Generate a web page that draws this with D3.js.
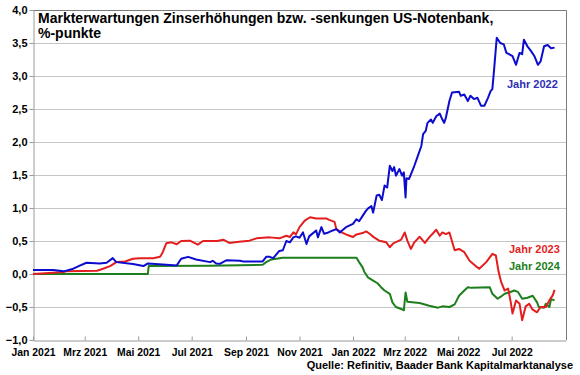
<!DOCTYPE html>
<html>
<head>
<meta charset="utf-8">
<script src="https://cdn.jsdelivr.net/npm/d3@7"></script>
<style>
  body { margin: 0; background: #fff; }
  svg { display: block; font-family: "Liberation Sans", Arial, sans-serif; }
  .grid line { stroke: #c6c6c6; }
  .axis text { font-size: 11px; font-weight: bold; fill: #000; }
  .axis.x text { font-size: 10.4px; }
</style>
</head>
<body>
<svg id="chart" width="580" height="375"></svg>
<script>
const monthNames = ["Jan", "Feb", "Mrz", "Apr", "Mai", "Jun", "Jul", "Aug", "Sep", "Okt", "Nov", "Dez"];
const yTicks = [-1, -0.5, 0, 0.5, 1, 1.5, 2, 2.5, 3, 3.5, 4];

const titleLines = ["Markterwartungen Zinserhöhungen bzw. -senkungen US-Notenbank,", "%-punkte"];
const source = "Quelle: Refinitiv, Baader Bank Kapitalmarktanalyse";

// Jahr 2022 (blau)
const jahr2022 = [
  ["2021-01-01", 0.06], ["2021-01-24", 0.06], ["2021-02-05", 0.04], ["2021-02-16", 0.08],
  ["2021-02-24", 0.13], ["2021-03-03", 0.17], ["2021-03-18", 0.16], ["2021-03-26", 0.17],
  ["2021-04-02", 0.24], ["2021-04-06", 0.18], ["2021-04-25", 0.15], ["2021-05-07", 0.12],
  ["2021-05-12", 0.16], ["2021-06-02", 0.14], ["2021-06-14", 0.13], ["2021-06-19", 0.23],
  ["2021-06-27", 0.26], ["2021-07-06", 0.22], ["2021-07-22", 0.18], ["2021-07-25", 0.20],
  ["2021-07-29", 0.16], ["2021-08-02", 0.155], ["2021-08-10", 0.21], ["2021-08-25", 0.20],
  ["2021-08-29", 0.19], ["2021-09-20", 0.19], ["2021-09-24", 0.26], ["2021-09-28", 0.26],
  ["2021-10-02", 0.24], ["2021-10-09", 0.35], ["2021-10-13", 0.36], ["2021-10-17", 0.50],
  ["2021-10-21", 0.48], ["2021-10-25", 0.555], ["2021-10-28", 0.57], ["2021-11-01", 0.55],
  ["2021-11-05", 0.63], ["2021-11-09", 0.455], ["2021-11-12", 0.57], ["2021-11-20", 0.66],
  ["2021-11-22", 0.555], ["2021-11-26", 0.71], ["2021-11-29", 0.61], ["2021-12-04", 0.63],
  ["2021-12-09", 0.66], ["2021-12-13", 0.68], ["2021-12-17", 0.63], ["2021-12-24", 0.71],
  ["2022-01-01", 0.76], ["2022-01-05", 0.83], ["2022-01-08", 0.80], ["2022-01-12", 0.88],
  ["2022-01-16", 0.96], ["2022-01-18", 0.99], ["2022-01-22", 1.03], ["2022-01-24", 0.93],
  ["2022-01-28", 1.19], ["2022-01-31", 1.20], ["2022-02-03", 1.12], ["2022-02-06", 1.34],
  ["2022-02-09", 1.31], ["2022-02-12", 1.64], ["2022-02-15", 1.56], ["2022-02-17", 1.62],
  ["2022-02-19", 1.49], ["2022-02-23", 1.59], ["2022-02-26", 1.49], ["2022-02-28", 1.54],
  ["2022-03-02", 1.16], ["2022-03-03", 1.45], ["2022-03-06", 1.44], ["2022-03-12", 1.64],
  ["2022-03-16", 1.79], ["2022-03-20", 1.94], ["2022-03-22", 2.12], ["2022-03-25", 2.17],
  ["2022-03-27", 2.29], ["2022-03-31", 2.34], ["2022-04-02", 2.29], ["2022-04-06", 2.39],
  ["2022-04-10", 2.43], ["2022-04-13", 2.34], ["2022-04-15", 2.29], ["2022-04-17", 2.37],
  ["2022-04-21", 2.62], ["2022-04-24", 2.75], ["2022-05-02", 2.76], ["2022-05-04", 2.70],
  ["2022-05-08", 2.72], ["2022-05-12", 2.62], ["2022-05-15", 2.70], ["2022-05-19", 2.65],
  ["2022-05-23", 2.67], ["2022-05-27", 2.55], ["2022-05-31", 2.55], ["2022-06-04", 2.67],
  ["2022-06-07", 2.77], ["2022-06-09", 2.80], ["2022-06-11", 3.10], ["2022-06-14", 3.58],
  ["2022-06-18", 3.50], ["2022-06-22", 3.48], ["2022-06-25", 3.35], ["2022-06-28", 3.33],
  ["2022-07-02", 3.30], ["2022-07-06", 3.17], ["2022-07-10", 3.35], ["2022-07-13", 3.33],
  ["2022-07-15", 3.55], ["2022-07-19", 3.45], ["2022-07-23", 3.38], ["2022-07-27", 3.30],
  ["2022-07-31", 3.17], ["2022-08-03", 3.22], ["2022-08-07", 3.45], ["2022-08-11", 3.47],
  ["2022-08-15", 3.42], ["2022-08-19", 3.43]
];

// Jahr 2023 (rot)
const jahr2023 = [
  ["2021-01-01", 0.0], ["2021-01-15", 0.01], ["2021-02-05", 0.03], ["2021-02-08", 0.04],
  ["2021-03-15", 0.05], ["2021-03-22", 0.08], ["2021-03-30", 0.12], ["2021-04-06", 0.18],
  ["2021-04-16", 0.19], ["2021-04-25", 0.23], ["2021-05-03", 0.24], ["2021-05-18", 0.24],
  ["2021-05-26", 0.26], ["2021-05-29", 0.33], ["2021-06-02", 0.465], ["2021-06-08", 0.48],
  ["2021-06-14", 0.45], ["2021-06-19", 0.50], ["2021-06-29", 0.505], ["2021-07-08", 0.445],
  ["2021-07-14", 0.50], ["2021-07-30", 0.50], ["2021-08-06", 0.52], ["2021-08-13", 0.47],
  ["2021-08-24", 0.49], ["2021-09-05", 0.505], ["2021-09-13", 0.54], ["2021-09-28", 0.555],
  ["2021-10-09", 0.54], ["2021-10-17", 0.58], ["2021-10-21", 0.56], ["2021-10-25", 0.63],
  ["2021-10-28", 0.60], ["2021-11-01", 0.71], ["2021-11-07", 0.81], ["2021-11-13", 0.86],
  ["2021-11-20", 0.84], ["2021-12-02", 0.84], ["2021-12-05", 0.82], ["2021-12-11", 0.79],
  ["2021-12-13", 0.68], ["2021-12-19", 0.63], ["2021-12-24", 0.60], ["2021-12-28", 0.58],
  ["2022-01-01", 0.56], ["2022-01-05", 0.60], ["2022-01-12", 0.62], ["2022-01-16", 0.645],
  ["2022-01-20", 0.61], ["2022-01-25", 0.555], ["2022-01-31", 0.505], ["2022-02-08", 0.48],
  ["2022-02-12", 0.405], ["2022-02-16", 0.465], ["2022-02-25", 0.52], ["2022-03-01", 0.63],
  ["2022-03-04", 0.505], ["2022-03-08", 0.38], ["2022-03-12", 0.48], ["2022-03-18", 0.565],
  ["2022-03-24", 0.47], ["2022-03-29", 0.555], ["2022-04-06", 0.67], ["2022-04-10", 0.58],
  ["2022-04-13", 0.63], ["2022-04-17", 0.605], ["2022-04-21", 0.63], ["2022-04-27", 0.36],
  ["2022-05-02", 0.38], ["2022-05-08", 0.33], ["2022-05-14", 0.20], ["2022-05-21", 0.12],
  ["2022-05-25", 0.08], ["2022-06-02", 0.18], ["2022-06-09", 0.305], ["2022-06-13", 0.28],
  ["2022-06-16", 0.04], ["2022-06-19", -0.12], ["2022-06-23", -0.25], ["2022-06-27", -0.22],
  ["2022-06-30", -0.43], ["2022-07-02", -0.60], ["2022-07-06", -0.40], ["2022-07-10", -0.45],
  ["2022-07-13", -0.70], ["2022-07-17", -0.49], ["2022-07-21", -0.45], ["2022-07-25", -0.54],
  ["2022-07-30", -0.58], ["2022-08-03", -0.50], ["2022-08-09", -0.50], ["2022-08-13", -0.40],
  ["2022-08-17", -0.32], ["2022-08-19", -0.24]
];

// Jahr 2024 (grün)
const jahr2024 = [
  ["2021-01-01", 0.0], ["2021-05-12", 0.0], ["2021-05-13", 0.12], ["2021-07-20", 0.125],
  ["2021-09-20", 0.14], ["2021-09-24", 0.18], ["2021-09-30", 0.22], ["2021-10-13", 0.245],
  ["2022-01-05", 0.245], ["2022-01-08", 0.18], ["2022-01-12", 0.10], ["2022-01-14", 0.03],
  ["2022-01-18", -0.05], ["2022-01-24", -0.10], ["2022-01-29", -0.14], ["2022-02-02", -0.20],
  ["2022-02-06", -0.25], ["2022-02-12", -0.30], ["2022-02-15", -0.43], ["2022-02-19", -0.50],
  ["2022-02-25", -0.53], ["2022-02-28", -0.55], ["2022-03-02", -0.28], ["2022-03-04", -0.42],
  ["2022-03-18", -0.44], ["2022-03-29", -0.48], ["2022-04-08", -0.51], ["2022-04-13", -0.49],
  ["2022-04-21", -0.50], ["2022-04-27", -0.46], ["2022-05-02", -0.33], ["2022-05-08", -0.25],
  ["2022-05-12", -0.20], ["2022-05-16", -0.21], ["2022-06-06", -0.20], ["2022-06-09", -0.30],
  ["2022-06-15", -0.375], ["2022-06-19", -0.34], ["2022-06-23", -0.30], ["2022-06-28", -0.28],
  ["2022-07-04", -0.25], ["2022-07-08", -0.27], ["2022-07-10", -0.31], ["2022-07-13", -0.375],
  ["2022-07-19", -0.36], ["2022-07-25", -0.33], ["2022-07-30", -0.43], ["2022-08-01", -0.50],
  ["2022-08-07", -0.51], ["2022-08-09", -0.45], ["2022-08-13", -0.50], ["2022-08-15", -0.38],
  ["2022-08-19", -0.40]
];

const series = [
  { name: "Jahr 2022", data: jahr2022, color: "#0c0cd0", labelColor: "#2f2fb4", lx: 507, ly: 88 },
  { name: "Jahr 2023", data: jahr2023, color: "#e41e1e", labelColor: "#e41e1e", lx: 509, ly: 253 },
  { name: "Jahr 2024", data: jahr2024, color: "#1c7f1c", labelColor: "#1c7f1c", lx: 509, ly: 270 }
];

const svg = d3.select("#chart");
const margin = { top: 10, right: 14, bottom: 35, left: 33 };
const width = 580, height = 375;
const parse = d3.timeParse("%Y-%m-%d");
const de = d3.formatLocale({ decimal: ",", thousands: ".", grouping: [3], currency: ["", " €"] });

const x = d3.scaleTime()
  .domain([parse("2021-01-01"), parse("2022-09-01")])
  .range([margin.left, width - margin.right]);
const y = d3.scaleLinear()
  .domain([-1, 4])
  .range([height - margin.bottom, margin.top]);

// gridlines
svg.append("g").attr("class", "grid")
  .selectAll("line")
  .data(yTicks.filter(d => d > -1 && d < 4))
  .join("line")
  .attr("x1", margin.left).attr("x2", width - margin.right)
  .attr("y1", d => Math.round(y(d)) + 0.5).attr("y2", d => Math.round(y(d)) + 0.5);

// frame: top and right
svg.append("path")
  .attr("fill", "none").attr("stroke", "#7a7a7a")
  .attr("d", `M${margin.left},${margin.top + 0.5}H${width - margin.right + 0.5}V${height - margin.bottom}`);

const xTicks = x.ticks(d3.timeMonth.every(2)).filter(d => d < x.domain()[1]);
const xAxis = svg.append("g").attr("class", "axis x")
  .attr("transform", `translate(0,${Math.round(y(-1)) + 0.5})`)
  .call(d3.axisBottom(x).tickValues(xTicks).tickSizeInner(-4).tickSizeOuter(0).tickPadding(8)
    .tickFormat(d => `${monthNames[d.getMonth()]} ${d.getFullYear()}`));
xAxis.selectAll("line, path").attr("stroke", "#9a9a9a");

const yAxis = svg.append("g").attr("class", "axis")
  .attr("transform", `translate(${margin.left + 0.5},0)`)
  .call(d3.axisLeft(y).tickValues(yTicks).tickSize(4).tickSizeOuter(0).tickPadding(2)
    .tickFormat(de.format(".1f")));
yAxis.selectAll("line, path").attr("stroke", "#9a9a9a");

// lines
const line = d3.line()
  .x(d => x(parse(d[0])))
  .y(d => y(d[1]));

svg.append("g")
  .selectAll("path")
  .data(series.slice().reverse())
  .join("path")
  .attr("fill", "none")
  .attr("stroke", d => d.color)
  .attr("stroke-width", 2)
  .attr("stroke-linejoin", "round")
  .attr("d", d => line(d.data));

svg.append("g")
  .selectAll("text")
  .data(series)
  .join("text")
  .attr("x", d => d.lx).attr("y", d => d.ly)
  .attr("fill", d => d.labelColor)
  .attr("font-size", 11).attr("font-weight", "bold")
  .text(d => d.name);

// title
svg.append("text")
  .attr("x", 38).attr("y", 23)
  .attr("font-size", 14).attr("font-weight", "bold")
  .selectAll("tspan")
  .data(titleLines)
  .join("tspan")
  .attr("x", 38).attr("dy", (d, i) => i ? 15 : 0)
  .text(d => d);

svg.append("text")
  .attr("x", 573).attr("y", 369)
  .attr("text-anchor", "end")
  .attr("font-size", 11).attr("font-weight", "bold")
  .text(source);
</script>
</body>
</html>
